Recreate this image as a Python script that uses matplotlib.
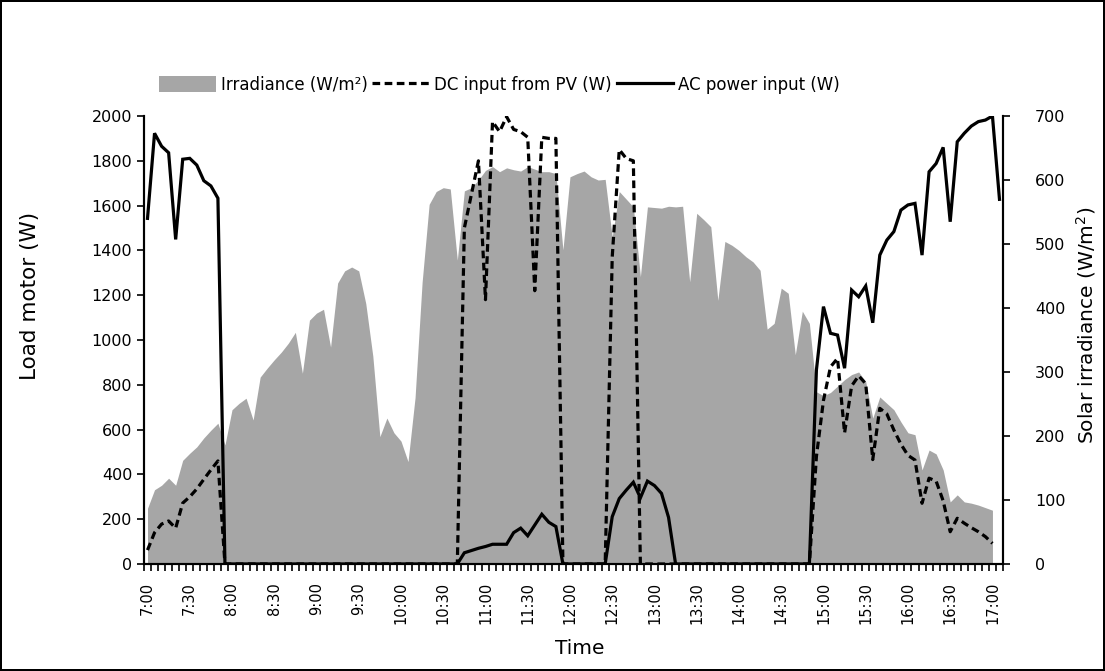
import matplotlib
matplotlib.use("Agg")
import matplotlib.pyplot as plt
from matplotlib.patches import Patch
from matplotlib.lines import Line2D

# Tick labels (every 30 min), data are 5-min samples starting 7:00
time_labels = ["7:00", "7:30", "8:00", "8:30", "9:00", "9:30", "10:00",
               "10:30", "11:00", "11:30", "12:00", "12:30", "13:00", "13:30",
               "14:00", "14:30", "15:00", "15:30", "16:00", "16:30", "17:00"]

# Solar irradiance (W/m2), right axis
irradiance = [
    87, 116, 123, 134, 123, 162, 173, 183, 197, 209,
    220, 186, 241, 251, 259, 225, 292, 306, 319, 331,
    345, 362, 298, 381, 392, 398, 339, 439, 458, 464,
    458, 407, 325, 199, 228, 205, 192, 160, 260, 440,
    562, 582, 588, 586, 475, 583, 588, 600, 615, 621,
    613, 619, 616, 614, 621, 617, 613, 613, 610, 491,
    605, 610, 614, 605, 600, 601, 511, 582, 570, 558,
    449, 558, 557, 556, 559, 558, 559, 441, 548, 538,
    527, 412, 504, 498, 490, 480, 472, 459, 367, 376,
    431, 423, 327, 395, 376, 269, 263, 268, 278, 288,
    296, 300, 285, 228, 261, 251, 241, 222, 205, 202,
    147, 178, 172, 147, 97, 108, 97, 95, 92, 88,
    84,
]

# DC input from PV (W), left axis
dc_input = [
    62, 140, 178, 192, 160, 272, 300, 335, 378, 420,
    460, 0, 0, 0, 0, 0, 0, 0, 0, 0,
    0, 0, 0, 0, 0, 0, 0, 0, 0, 0,
    0, 0, 0, 0, 0, 0, 0, 0, 0, 0,
    0, 0, 0, 0, 0, 1500, 1650, 1800, 1180, 1975,
    1930, 1997, 1940, 1930, 1905, 1220, 1905, 1900, 1900, 0,
    0, 0, 0, 0, 0, 0, 1370, 1850, 1810, 1800,
    0, 0, 0, 0, 0, 0, 0, 0, 0, 0,
    0, 0, 0, 0, 0, 0, 0, 0, 0, 0,
    0, 0, 0, 0, 0, 480, 730, 880, 918, 585,
    795, 840, 805, 466, 695, 670, 598, 535, 485, 464,
    271, 383, 370, 282, 144, 204, 182, 162, 144, 122,
    92,
]

# AC power input (W), left axis
ac_input = [
    1543, 1923, 1865, 1836, 1449, 1807, 1811, 1781, 1711, 1688,
    1633, 0, 0, 0, 0, 0, 0, 0, 0, 0,
    0, 0, 0, 0, 0, 0, 0, 0, 0, 0,
    0, 0, 0, 0, 0, 0, 0, 0, 0, 0,
    0, 0, 0, 0, 0, 50, 60, 70, 78, 88,
    88, 88, 140, 160, 126, 174, 222, 186, 167, 0,
    0, 0, 0, 0, 0, 0, 211, 292, 330, 365,
    295, 370, 350, 315, 208, 0, 0, 0, 0, 0,
    0, 0, 0, 0, 0, 0, 0, 0, 0, 0,
    0, 0, 0, 0, 0, 866, 1149, 1030, 1022, 874,
    1223, 1193, 1241, 1077, 1379, 1446, 1484, 1580, 1603, 1610,
    1379, 1751, 1788, 1860, 1528, 1885, 1923, 1955, 1975, 1982,
    2000, 1628,
]

plt.rcParams["font.family"] = "DejaVu Sans"

fig = plt.figure(figsize=(11.05, 6.71), dpi=100)
fig.patch.set_edgecolor("black")
fig.patch.set_linewidth(1.5)

ax = fig.add_axes([0.1303, 0.1595, 0.7774, 0.6676])
ax2 = ax.twinx()

# irradiance area on the right axis, behind the lines
ax2.fill_between(range(len(irradiance)), irradiance, 0, color="#A6A6A6", lw=0)
ax2.set_ylim(0, 700)
ax2.set_yticks(range(0, 701, 100))

ax.set_zorder(ax2.get_zorder() + 1)
ax.patch.set_visible(False)

ax.plot(range(len(dc_input)), dc_input, color="black", lw=2.3,
        linestyle=(0, (2.4, 1.4)), dash_capstyle="butt")
ax.plot(range(len(ac_input)), ac_input, color="black", lw=2.3,
        solid_joinstyle="miter")

ax.set_ylim(0, 2000)
ax.set_yticks(range(0, 2001, 200))
ax.set_xlim(-0.5, len(ac_input) - 0.5)

# category ticks at every boundary, labels every 30 min
ax.set_xticks([k - 0.5 for k in range(len(ac_input) + 1)], minor=True)
ax.set_xticks(range(0, 121, 6))
ax.set_xticklabels(time_labels, rotation=90, fontsize=10.5)
ax.tick_params(axis="x", which="major", length=0, pad=13)
ax.tick_params(axis="x", which="minor", length=5, width=1.2)
ax.tick_params(axis="y", length=5, width=1.2, labelsize=11.5)
ax2.tick_params(axis="y", length=5, width=1.2, labelsize=11.5, pad=18)

for a in (ax, ax2):
    a.spines["top"].set_visible(False)
    for s in ("left", "right", "bottom"):
        a.spines[s].set_linewidth(1.5)

# axis titles placed like the original
fig.text(30 / 1105, 1 - 296 / 671, "Load motor (W)", rotation=90,
         ha="center", va="center", fontsize=15.5)
fig.text(1086 / 1105, 1 - 325 / 671, "Solar irradiance (W/m$^2$)", rotation=90,
         ha="center", va="center", fontsize=14.5)
fig.text(580 / 1105, 1 - 649 / 671, "Time", ha="center", va="center",
         fontsize=14.5)

handles = [
    Patch(facecolor="#A6A6A6", edgecolor="none"),
    Line2D([], [], color="black", lw=2.3, linestyle=(0, (2.4, 1.4))),
    Line2D([], [], color="black", lw=2.3),
]
labels = ["Irradiance (W/m²)", "DC input from PV (W)", "AC power input (W)"]
fig.legend(handles, labels, loc="center", bbox_to_anchor=(0.452, 0.874),
           ncol=3, frameon=False, fontsize=12, handlelength=3.4,
           handleheight=1.1, handletextpad=0.3, columnspacing=0.3)

fig.savefig("out.png", dpi=100, edgecolor=fig.get_edgecolor())
